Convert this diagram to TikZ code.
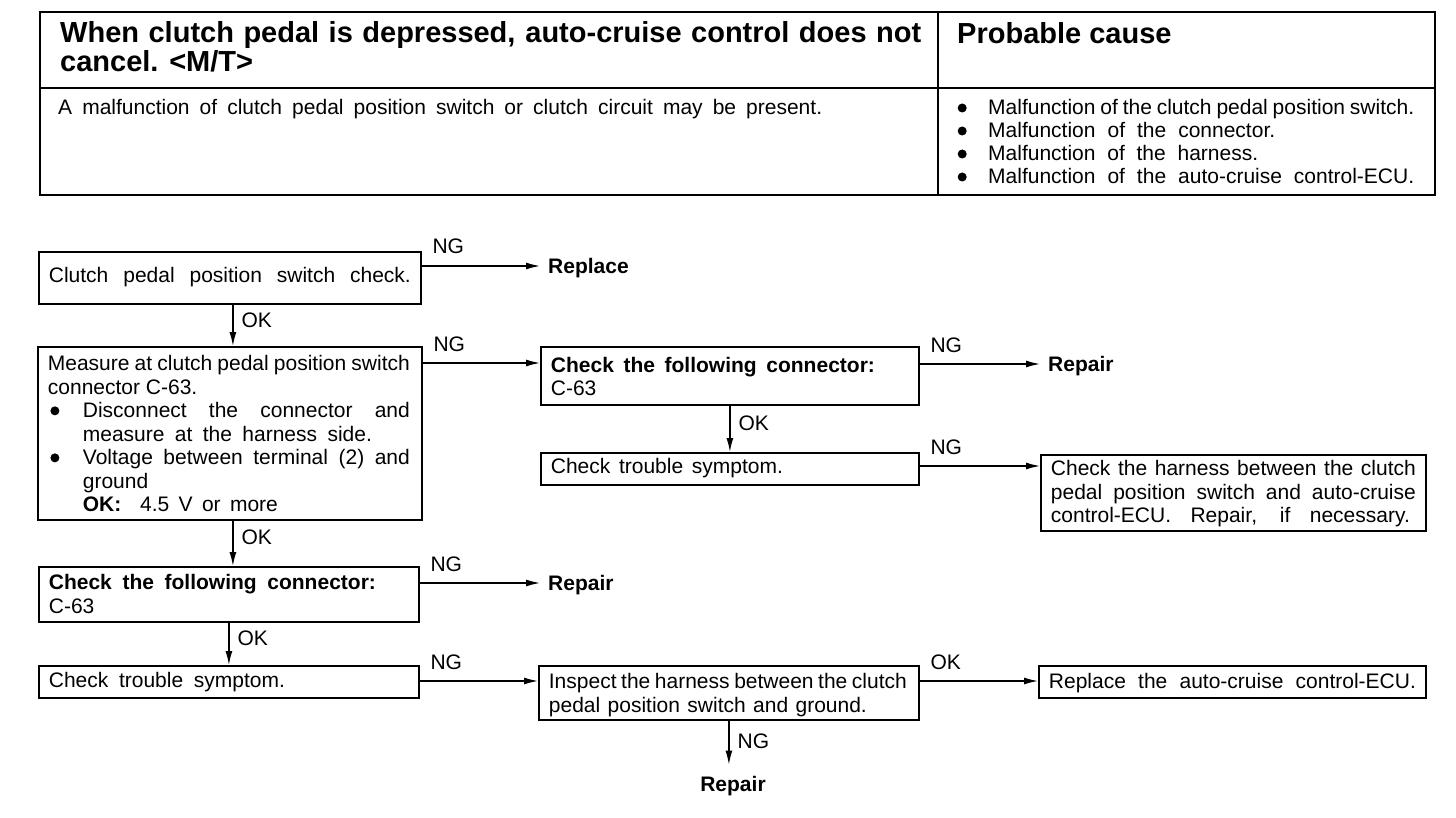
\documentclass[tikz,border=0pt]{standalone}
\usepackage{fontspec}
\setmainfont{Liberation Sans}
\usetikzlibrary{arrows.meta,calc}
\newcommand{\bul}{\tikz[baseline=0pt]\fill (4.5pt,7pt) circle[radius=4.5pt];}
\newcommand{\sline}[2]{\makebox[#1pt][s]{#2}}
\newcommand{\bt}[4]{\parbox[c][#1pt][t]{#2pt}{\vspace*{#3pt}\strut #4}}
\tikzset{
 box/.style={draw, line width=1.8pt, anchor=north west, inner xsep=10pt, inner ysep=0pt, font=\fontsize{21}{23.5}\selectfont},
 arr/.style={line width=1.4pt, -{Latex[length=14pt,width=7pt]}},
 lab/.style={anchor=base west, inner sep=0pt, xshift=10pt, yshift=12pt, font=\fontsize{21}{23}\selectfont},
 vlab/.style={pos=0.37, anchor=west, inner sep=0pt, xshift=8pt, font=\fontsize{21}{23}\selectfont},
 txt/.style={anchor=base west, inner sep=0pt, font=\fontsize{21}{23}\selectfont},
 res/.style={anchor=base west, inner xsep=8pt, inner ysep=0pt, font=\bfseries\fontsize{21}{23}\selectfont},
}
\begin{document}
\begin{tikzpicture}[x=1pt,y=-1pt]
\useasboundingbox (0,0) rectangle (1456,818);
% ---------- table ----------
\draw[line width=2.6pt] (40,12) rectangle (1435,195);
\draw[line width=1.6pt] (40,88) -- (1435,88);
\draw[line width=1.8pt] (938,12) -- (938,195);
\node[txt, font=\bfseries\fontsize{29}{29}\selectfont] (title) at (60,43)
  {\parbox[t]{870pt}{\sline{861}{When clutch pedal is depressed, auto-cruise control does not}\\cancel. <M/T>}};
\node[txt, font=\bfseries\fontsize{29}{29}\selectfont] (pc) at (957,44) {Probable cause};
\node[txt] (cond) at (58,114.5) {\sline{764}{A malfunction of clutch pedal position switch or clutch circuit may be present.}};
\node[txt] (causes) at (957.5,115) {\parbox[t]{470pt}{%
  \makebox[30.5pt][l]{\bul}\sline{426}{Malfunction of the clutch pedal position switch.}\\
  \makebox[30.5pt][l]{\bul}\sline{287}{Malfunction of the connector.}\\
  \makebox[30.5pt][l]{\bul}\sline{270}{Malfunction of the harness.}\\
  \makebox[30.5pt][l]{\bul}\sline{426}{Malfunction of the auto-cruise control-ECU.}}};
% ---------- flow boxes ----------
\node[box] (b1) at (38,251) {\bt{52}{362}{14.5}{\sline{362}{Clutch pedal position switch check.}}};
\node[box] (b2) at (37,346) {\bt{173}{364}{7.5}{%
  \sline{362}{Measure at clutch pedal position switch}\\
  connector C-63.\\
  \makebox[35pt][l]{\hspace{2.5pt}\bul}\sline{327}{Disconnect the connector and}\\
  \hspace*{35pt}\sline{289}{measure at the harness side.}\\
  \makebox[35pt][l]{\hspace{2.5pt}\bul}\sline{327}{Voltage between terminal (2) and}\\
  \hspace*{35pt}ground\\
  \hspace*{35pt}\sline{195}{\textbf{OK:} \ 4.5 V or more}}};
\node[box] (b3) at (540,346) {\bt{58}{358}{9}{\textbf{\sline{324}{Check the following connector:}}\\C-63}};
\node[box] (b4) at (540,452) {\bt{32}{358}{4.5}{\sline{232}{Check trouble symptom.}}};
\node[box] (b5) at (1040,454) {\bt{76}{365}{4.5}{%
  \sline{365}{Check the harness between the clutch}\\
  \sline{365}{pedal position switch and auto-cruise}\\
  \sline{359}{control-ECU. Repair, if necessary.}}};
\node[box] (b6) at (38,566) {\bt{55}{360}{6.5}{\textbf{\sline{327}{Check the following connector:}}\\C-63}};
\node[box] (b7) at (38,665) {\bt{32}{360}{5.5}{\sline{236}{Check trouble symptom.}}};
\node[box] (b8) at (538,665) {\bt{54}{360}{6.5}{%
  \sline{358}{Inspect the harness between the clutch}\\
  \sline{318}{pedal position switch and ground.}}};
\node[box] (b9) at (1038,665) {\bt{32}{367}{6.5}{\sline{367}{Replace the auto-cruise control-ECU.}}};
% ---------- results ----------
\node[res] (rep1) at (540,273.5) {Replace};
\node[res] (rep2) at (1040,371.5) {Repair};
\node[res] (rep3) at (540,590.5) {Repair};
\node[anchor=base, inner sep=0pt, font=\bfseries\fontsize{21}{23}\selectfont] (rep4) at (733,791) {Repair};
% ---------- connectors ----------
\coordinate (a1s) at ($(b1.north east)+(0,15)$);
\coordinate (a2s) at ($(b2.north east)+(0,17)$);
\coordinate (a3s) at ($(b3.north east)+(0,18)$);
\coordinate (a4s) at ($(b4.north east)+(0,14)$);
\coordinate (a5s) at ($(b6.north east)+(0,17)$);
\coordinate (a6s) at ($(b7.north east)+(0,16)$);
\coordinate (a7s) at ($(b8.north east)+(0,16)$);
\draw[arr] (a1s) -- (a1s -| rep1.west) node[lab,pos=0] {NG};
\draw[arr] (a2s) -- (a2s -| b3.west) node[lab,pos=0] {NG};
\draw[arr] (a3s) -- (a3s -| rep2.west) node[lab,pos=0] {NG};
\draw[arr] (a4s) -- (a4s -| b5.west) node[lab,pos=0] {NG};
\draw[arr] (a5s) -- (a5s -| rep3.west) node[lab,pos=0] {NG};
\draw[arr] (a6s) -- (a6s -| b8.west) node[lab,pos=0] {NG};
\draw[arr] (a7s) -- (a7s -| b9.west) node[lab,pos=0] {OK};
\coordinate (v1s) at ($(b1.south)+(3,0)$);
\coordinate (v2s) at (b3.south);
\coordinate (v3s) at ($(b2.south)+(3,0)$);
\coordinate (v4s) at (b6.south);
\coordinate (v5s) at (b8.south);
\draw[arr] (v1s) -- (v1s |- b2.north) node[vlab] {OK};
\draw[arr] (v2s) -- (v2s |- b4.north) node[vlab] {OK};
\draw[arr] (v3s) -- (v3s |- b6.north) node[vlab] {OK};
\draw[arr] (v4s) -- (v4s |- b7.north) node[vlab] {OK};
\draw[arr, shorten >=11pt] (v5s) -- (v5s |- rep4.north) node[vlab] {NG};
\end{tikzpicture}
\end{document}
